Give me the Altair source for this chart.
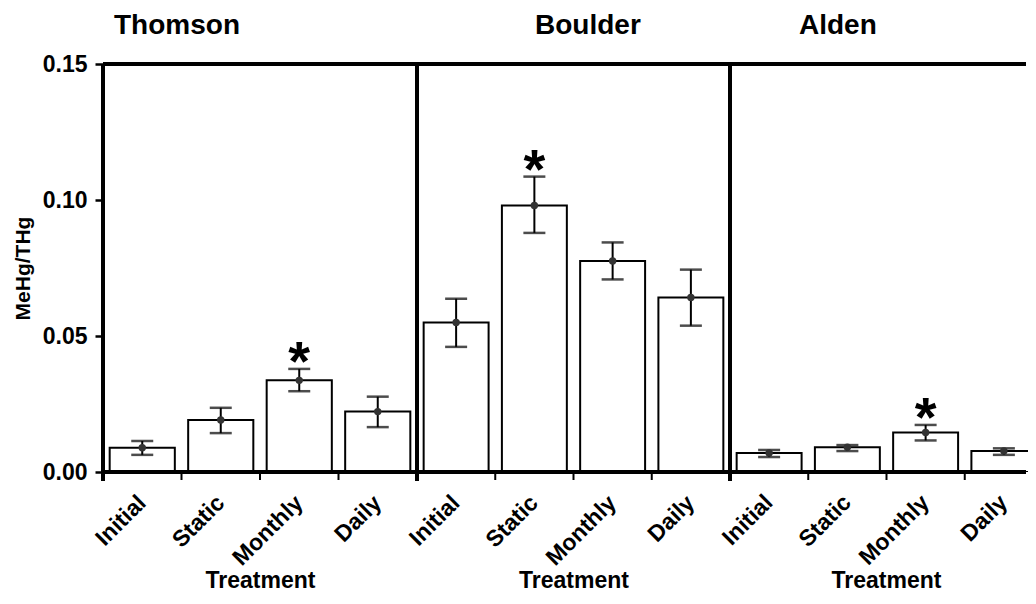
import altair as alt
import pandas as pd

treatments = ["Initial", "Static", "Monthly", "Daily"]
sites = ["Thomson", "Boulder", "Alden"]

thomson_mean = [0.0089, 0.0191, 0.0337, 0.0222]
thomson_lo = [0.0063, 0.0143, 0.0297, 0.0165]
thomson_hi = [0.0114, 0.0236, 0.0379, 0.0277]

boulder_mean = [0.0550, 0.0980, 0.0776, 0.0642]
boulder_lo = [0.0460, 0.0879, 0.0708, 0.0538]
boulder_hi = [0.0637, 0.1086, 0.0844, 0.0744]

alden_mean = [0.0070, 0.0091, 0.0145, 0.0077]
alden_lo = [0.0055, 0.0077, 0.0116, 0.0063]
alden_hi = [0.0081, 0.0099, 0.0173, 0.0087]

significant = {"Thomson": "Monthly", "Boulder": "Static", "Alden": "Monthly"}

y_ticks = [0.0, 0.05, 0.10, 0.15]

FONT = "Liberation Sans"
PH = 408
view_w = {"Thomson": 314, "Boulder": 313, "Alden": 298}
range_w = {"Thomson": 314, "Boulder": 313, "Alden": 313}
title_dx = {"Thomson": 11, "Boulder": 118, "Alden": 69}
title_dy = {"Thomson": 9, "Boulder": 0, "Alden": 0}
LABEL_PAD = 27
XTITLE_Y = 524


def panel(site, means, lo, hi, first):
    W = view_w[site]
    cut = site == "Alden"
    df = pd.DataFrame({
        "treatment": treatments,
        "mean": means,
        "lo": lo,
        "hi": hi,
        "star": ["*" if t == significant[site] else "" for t in treatments],
    })
    xscale = alt.Scale(domain=treatments, paddingInner=0, paddingOuter=0,
                       range=[0, range_w[site]])
    yscale = alt.Scale(domain=[0, 0.15], nice=False, zero=True)

    if cut:
        xaxis = None
    else:
        xaxis = alt.Axis(
            ticks=False, domain=False, labelAngle=-45, labelAlign="right",
            labelBaseline="middle", labelFontSize=23, labelFontWeight="bold",
            labelPadding=LABEL_PAD, labelColor="black", titleFontSize=23,
            titleFontWeight="bold", titlePadding=0, titleColor="black",
            labelFont=FONT, titleFont=FONT,
        )
    if first:
        yaxis = alt.Axis(
            values=y_ticks, format=".2f", domain=False, grid=False,
            tickSize=8, tickWidth=2.5, tickColor="black",
            labelFontSize=23, labelFontWeight="bold", labelPadding=8,
            labelColor="black", titleFontSize=21, titleFontWeight="bold",
            titlePadding=9, titleColor="black", labelFont=FONT, titleFont=FONT,
        )
    else:
        yaxis = None

    def ych(field, axis_spec=None):
        if first:
            if axis_spec is not None:
                return alt.Y(field, scale=yscale, axis=axis_spec, title="MeHg/THg")
            return alt.Y(field, scale=yscale, title="MeHg/THg")
        return alt.Y(field, scale=yscale, axis=None)

    def xch(band_pos=None, axis_spec="inherit"):
        kw = dict(scale=xscale, sort=treatments, title="Treatment")
        if band_pos is not None:
            kw["bandPosition"] = band_pos
        if cut:
            kw["axis"] = None
        elif axis_spec != "inherit":
            kw["axis"] = axis_spec
        return alt.X("treatment:N", **kw)

    base = alt.Chart(df)
    bars = base.mark_bar(
        fill="white", stroke="black", strokeWidth=2, clip=cut,
        width=alt.RelativeBandSize(0.83),
    ).encode(x=xch(axis_spec=xaxis), y=ych("mean:Q", yaxis))
    err = base.mark_rule(color="black", strokeWidth=2).encode(
        x=xch(), y=ych("lo:Q"), y2="hi:Q"
    )
    cap_lo = base.mark_tick(color="black", size=22, thickness=2.5, orient="horizontal").encode(
        x=xch(), y=ych("lo:Q")
    )
    cap_hi = base.mark_tick(color="black", size=22, thickness=2.5, orient="horizontal").encode(
        x=xch(), y=ych("hi:Q")
    )
    pts = base.mark_circle(color="#333333", size=55, opacity=1).encode(
        x=xch(), y=ych("mean:Q")
    )
    star = base.mark_text(
        font=FONT, fontSize=56, fontWeight="bold", color="black",
        baseline="alphabetic", dy=11,
    ).encode(x=xch(), y=ych("hi:Q"), text="star:N")
    ticks_minor = base.mark_rule(color="black", strokeWidth=2).encode(
        x=xch(band_pos=0), y=alt.value(PH), y2=alt.value(PH + 8)
    ).transform_filter(alt.datum.treatment != "Initial")
    ticks_major = base.mark_rule(color="black", strokeWidth=4).encode(
        x=xch(band_pos=0), y=alt.value(PH), y2=alt.value(PH + 9)
    ).transform_filter(alt.datum.treatment == "Initial")

    x_end = W - 2 if cut else W
    frame = alt.Chart(pd.DataFrame({"k": [0]}))
    left_border = frame.mark_rule(color="black", strokeWidth=4).encode(
        x=alt.value(0), y=alt.value(0), y2=alt.value(PH)
    )
    top_border = frame.mark_rule(color="black", strokeWidth=4).encode(
        x=alt.value(0), x2=alt.value(x_end), y=alt.value(0)
    )
    bottom_border = frame.mark_rule(color="black", strokeWidth=4).encode(
        x=alt.value(0), x2=alt.value(x_end), y=alt.value(PH)
    )

    layers = [bars, err, cap_lo, cap_hi, pts, star, ticks_minor, ticks_major,
              left_border, top_border, bottom_border]

    if cut:
        # axis drawn with text marks so the panel can stop at the page edge
        labels = base.mark_text(
            font=FONT, fontSize=23, fontWeight="bold", color="black",
            angle=315, align="right", baseline="middle",
        ).encode(x=xch(), y=alt.value(PH + LABEL_PAD), text="treatment:N")
        xtitle = frame.mark_text(
            font=FONT, fontSize=23, fontWeight="bold", color="black",
            align="center", baseline="alphabetic",
        ).encode(x=alt.value(range_w[site] / 2), y=alt.value(XTITLE_Y),
                 text=alt.value("Treatment"))
        layers += [labels, xtitle]

    return alt.layer(*layers).properties(
        width=W, height=PH,
        title=alt.TitleParams(
            text=site, anchor="start", frame="group", dx=title_dx[site],
            dy=title_dy[site], fontSize=28, fontWeight="bold", font=FONT,
            color="black", baseline="alphabetic", offset=0,
        ),
    )


chart = alt.hconcat(
    panel("Thomson", thomson_mean, thomson_lo, thomson_hi, True),
    panel("Boulder", boulder_mean, boulder_lo, boulder_hi, False),
    panel("Alden", alden_mean, alden_lo, alden_hi, False),
    spacing=0,
    bounds="flush",
).properties(
    padding={"left": 4, "top": 4, "right": 0, "bottom": 0},
).configure(font=FONT).configure_view(stroke=None)

chart.save("out.html", embed_options={"renderer": "svg", "actions": False})
